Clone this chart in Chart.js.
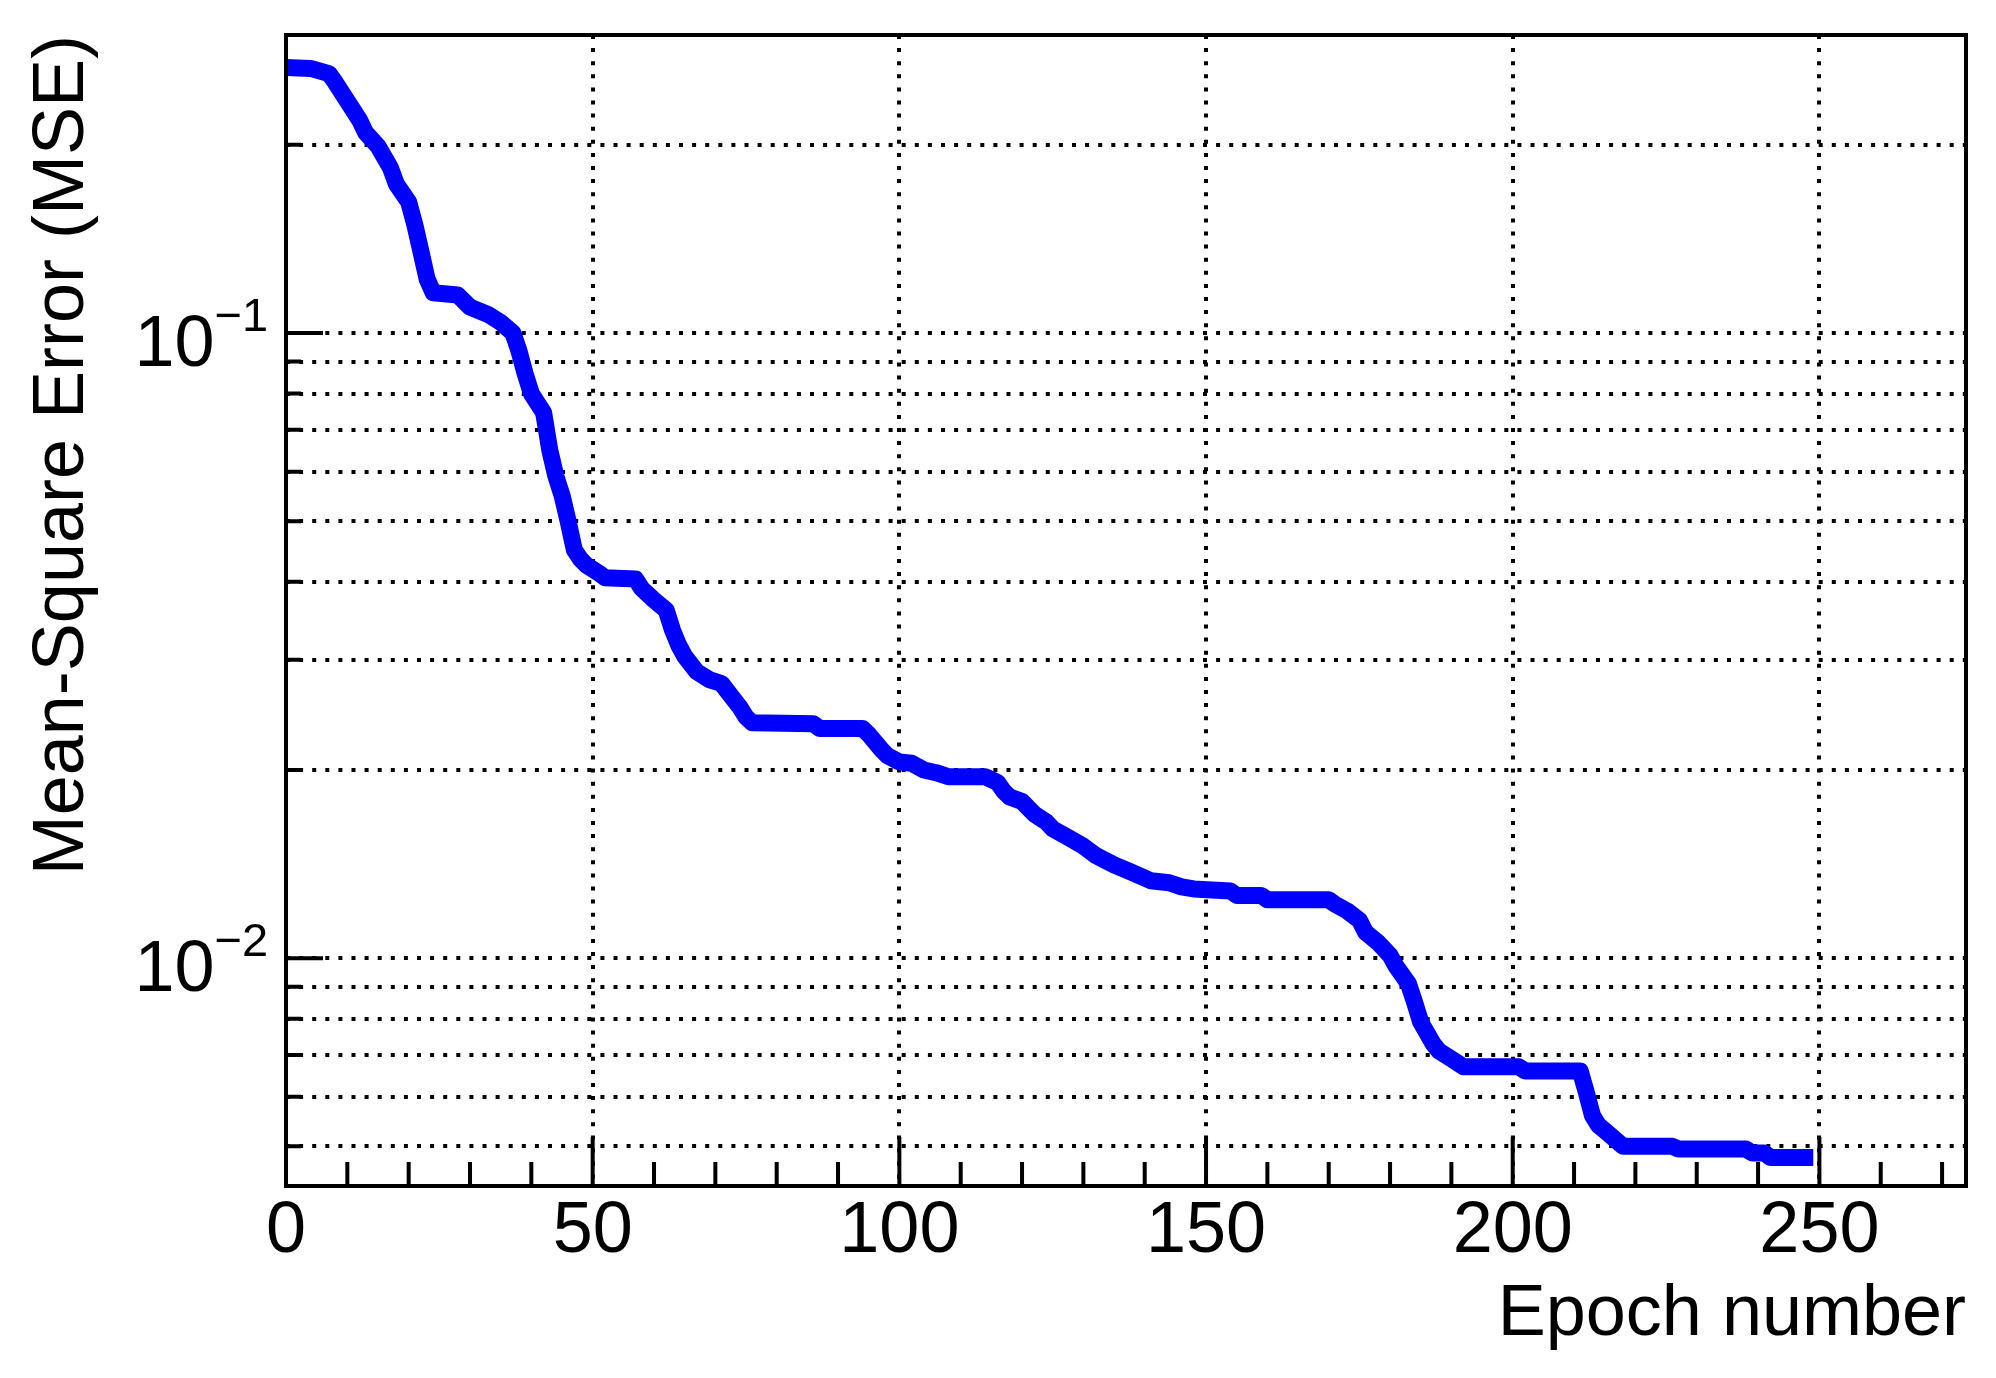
<!DOCTYPE html>
<html>
<head>
<meta charset="utf-8">
<title>MSE vs epoch</title>
<script src="https://cdn.jsdelivr.net/npm/chart.js@4.4.1/dist/chart.umd.min.js"></script>
<style>
    html, body { margin: 0; padding: 0; background: #ffffff; }
    #wrap { width: 1996px; height: 1378px; position: relative; }
</style>
</head>
<body>
<div id="wrap"><canvas id="mseChart"></canvas></div>
<script>
// training curve
const epochs = [0, 4, 7, 8, 10, 12, 13, 15, 17, 18,
    20, 21, 22, 23, 24, 28, 30, 33, 35, 37,
    38, 39, 40, 42, 43, 44, 45, 46, 47, 48,
    49, 51, 52, 57, 58, 60, 62, 63, 64, 65,
    67, 69, 71, 72, 74, 75, 76, 86, 87, 94,
    95, 97, 98, 100, 102, 104, 106, 108, 114, 116,
    117, 118, 120, 122, 124, 125, 127, 130, 132, 135,
    138, 141, 144, 146, 148, 154, 155, 159, 160, 170,
    171, 173, 175, 176, 178, 180, 181, 183, 184, 185,
    187, 188, 190, 192, 201, 202, 211, 212, 213, 214,
    215, 216, 218, 226, 227, 238, 239, 241, 242, 249];
const mseValues = [0.266, 0.265, 0.260, 0.252, 0.235, 0.219, 0.209, 0.199, 0.184, 0.173,
    0.162, 0.149, 0.135, 0.122, 0.116, 0.115, 0.110, 0.107, 0.104, 0.100,
    0.0935, 0.086, 0.080, 0.0746, 0.065, 0.059, 0.055, 0.050, 0.045, 0.0435,
    0.0425, 0.0413, 0.0406, 0.0404, 0.0390, 0.0374, 0.0360, 0.0335, 0.0317, 0.0304,
    0.0287, 0.0279, 0.0275, 0.0267, 0.0252, 0.0243, 0.0238, 0.0237, 0.0233, 0.0233,
    0.0228, 0.0216, 0.0211, 0.0206, 0.0205, 0.0200, 0.0198, 0.0195, 0.0195, 0.0191,
    0.0185, 0.0181, 0.0178, 0.0170, 0.0165, 0.0161, 0.0157, 0.0151, 0.0146, 0.0141,
    0.0137, 0.0133, 0.0132, 0.0130, 0.0129, 0.0128, 0.0126, 0.0126, 0.0124, 0.0124,
    0.0122, 0.0119, 0.0115, 0.0110, 0.0106, 0.0101, 0.0097, 0.0091, 0.0085, 0.0079,
    0.0073, 0.0071, 0.0069, 0.0067, 0.0067, 0.0066, 0.0066, 0.0061, 0.0056, 0.0054,
    0.0053, 0.0052, 0.0050, 0.0050, 0.00495, 0.00495, 0.00488, 0.00488, 0.0048, 0.0048];

const xLabelTicks = [0, 50, 100, 150, 200, 250];
const yGridTicks = [0.005, 0.006, 0.007, 0.008, 0.009, 0.01,
    0.02, 0.03, 0.04, 0.05, 0.06, 0.07, 0.08, 0.09, 0.1, 0.2];
const yLabelTicks = [0.01, 0.1];

const X_MIN = 0, X_MAX = 273.9;
const Y_MIN = 0.00432, Y_MAX = 0.2997;

const FONT = '"Liberation Sans", Arial, Helvetica, sans-serif';
const GRID_DASH = [4, 9.1];

// ROOT-like frame: inward tick marks, solid box, 10^n labels
const rootFrame = {
    id: "rootFrame",
    afterDatasetsDraw(chart) {
        const { ctx, chartArea: a } = chart;
        const xs = chart.scales.x, ys = chart.scales.y;
        ctx.save();
        ctx.strokeStyle = "#000";
        ctx.lineWidth = 4;
        ctx.lineCap = "butt";

        ctx.beginPath();
        for (let v = X_MIN; v <= X_MAX; v += 10) {
            const px = xs.getPixelForValue(v);
            const len = v % 50 === 0 ? 49 : 24;
            ctx.moveTo(px, a.bottom);
            ctx.lineTo(px, a.bottom - len);
        }
        yGridTicks.forEach(v => {
            const py = ys.getPixelForValue(v);
            const len = yLabelTicks.includes(v) ? 37 : 15;
            ctx.moveTo(a.left, py);
            ctx.lineTo(a.left + len, py);
        });
        ctx.stroke();

        ctx.strokeRect(a.left, a.top, a.right - a.left, a.bottom - a.top);

        // y labels with superscript exponent
        ctx.fillStyle = "#000";
        ctx.textBaseline = "alphabetic";
        yLabelTicks.forEach(v => {
            const py = ys.getPixelForValue(v);
            const exp = Math.round(Math.log10(v));
            const sup = (exp < 0 ? "\u2212" : "") + Math.abs(exp);
            ctx.font = "47px " + FONT;
            ctx.textAlign = "left";
            const m = ctx.measureText(sup);
            const sx = a.left - 20 - m.actualBoundingBoxRight;
            ctx.fillText(sup, sx, py - 2);
            ctx.font = "72px " + FONT;
            ctx.textAlign = "right";
            ctx.fillText("10", sx, py + 33);
        });
        ctx.restore();
    }
};

function initChart() {
    const points = epochs.map((e, i) => ({ x: e, y: mseValues[i] }));
    const ctx = document.getElementById("mseChart").getContext("2d");
    new Chart(ctx, {
        type: "line",
        data: {
            datasets: [{
                label: "MSE",
                data: points,
                borderColor: "#0000ff",
                backgroundColor: "#0000ff",
                borderWidth: 17,
                borderCapStyle: "butt",
                borderJoinStyle: "round",
                pointRadius: 0,
                tension: 0,
                fill: false,
            }],
        },
        options: {
            responsive: true,
            maintainAspectRatio: false,
            animation: false,
            events: [],
            layout: { padding: { top: 35, right: 30, left: 0, bottom: 0 } },
            plugins: {
                legend: { display: false },
                tooltip: { enabled: false },
            },
            scales: {
                x: {
                    type: "linear",
                    min: X_MIN,
                    max: X_MAX,
                    afterBuildTicks: s => { s.ticks = xLabelTicks.map(v => ({ value: v })); },
                    afterFit: s => { s.height = 192; },
                    grid: { color: "#000", lineWidth: 4, drawTicks: false },
                    border: { display: false, dash: GRID_DASH },
                    ticks: {
                        color: "#000",
                        padding: 3,
                        maxRotation: 0,
                        font: { family: FONT, size: 72 },
                    },
                    title: {
                        display: true,
                        text: "Epoch number",
                        align: "end",
                        color: "#000",
                        font: { family: FONT, size: 72 },
                        padding: { top: 0, bottom: 20 },
                    },
                },
                y: {
                    type: "logarithmic",
                    min: Y_MIN,
                    max: Y_MAX,
                    afterBuildTicks: s => { s.ticks = yGridTicks.map(v => ({ value: v })); },
                    afterFit: s => { s.width = 286; },
                    grid: { color: "#000", lineWidth: 4, drawTicks: false },
                    border: { display: false, dash: GRID_DASH },
                    ticks: { display: false },
                    title: {
                        display: true,
                        text: "Mean-Square Error (MSE)",
                        align: "end",
                        color: "#000",
                        font: { family: FONT, size: 72 },
                        padding: { top: 20, bottom: 0 },
                    },
                },
            },
        },
        plugins: [rootFrame],
    });
}

document.addEventListener("DOMContentLoaded", initChart);
</script>
</body>
</html>
